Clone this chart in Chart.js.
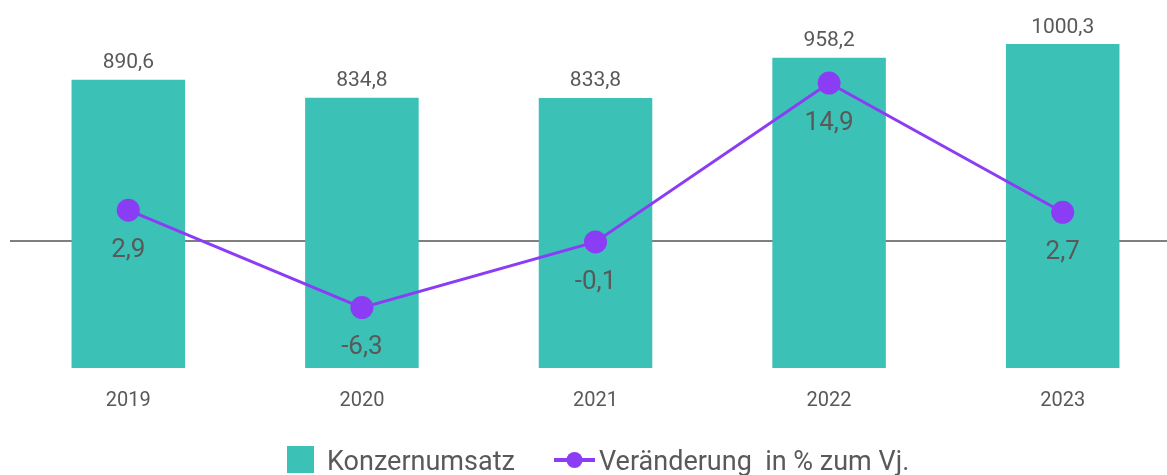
<!DOCTYPE html>
<html><head><meta charset="utf-8">
<script src="https://cdn.jsdelivr.net/npm/chart.js@4"></script>
<style>
html,body{margin:0;padding:0;background:#fff;overflow:hidden;width:1167px;height:475px}
#wrap{position:relative;width:1167px;height:475px;overflow:hidden}
#c{position:absolute;left:0;top:0;display:block}
#legend{position:absolute;left:0;top:0;width:1167px;height:475px;pointer-events:none;font-family:Roboto;color:#595959}
#legend .sq{position:absolute;left:287px;top:446px;width:27px;height:27px;background:#3CC1B6}
#legend .tx{position:absolute;font-size:27px;line-height:30px;white-space:pre;top:446px}
#legend svg{position:absolute;left:554px;top:450px}
</style>
</head><body><div id="wrap"><canvas id="c" width="1191" height="475" style="width:1191px;height:475px"></canvas>
<div id="legend"></div></div>
<script>
const categories = ['2019','2020','2021','2022','2023'];
const revenue = [890.6, 834.8, 833.8, 958.2, 1000.3];
const changePct = [2.9, -6.3, -0.1, 14.9, 2.7];
const seriesNames = ['Konzernumsatz', 'Veränderung  in % zum Vj.'];

const TEAL = '#3CC1B6', PURPLE = '#8B3DF5', TXT = '#595959', FONT = 'Roboto';
const fmt = v => v.toFixed(1).replace('.', ',');

// HTML legend (real text)
const lg = document.getElementById('legend');
lg.innerHTML =
  '<div class="sq"></div>' +
  '<span class="tx" style="left:327px"></span>' +
  '<svg width="41" height="20" viewBox="0 0 41 20"><line x1="0" y1="10" x2="41" y2="10" stroke="'+PURPLE+'" stroke-width="4"/><circle cx="20.5" cy="10" r="8" fill="'+PURPLE+'"/></svg>' +
  '<span class="tx" style="left:599px"></span>';
const spans = lg.querySelectorAll('.tx');
spans[0].textContent = seriesNames[0];
spans[1].textContent = seriesNames[1];

const zeroLine = {
  id:'zeroLine',
  beforeDatasetsDraw(chart){
    const y = Math.round(chart.scales.y1.getPixelForValue(0));
    const ctx = chart.ctx; ctx.save();
    ctx.strokeStyle = '#7f7f7f'; ctx.lineWidth = 2;
    ctx.beginPath(); ctx.moveTo(10, y); ctx.lineTo(chart.width, y); ctx.stroke();
    ctx.restore();
  }
};
const labels = {
  id:'labels',
  afterDatasetsDraw(chart){
    const ctx = chart.ctx; ctx.save();
    ctx.fillStyle = TXT; ctx.textAlign = 'center'; ctx.textBaseline = 'alphabetic';
    let s = 21;
    ctx.font = s + 'px ' + FONT;
    chart.getDatasetMeta(0).data.forEach((el,i)=>{
      ctx.fillText(fmt(revenue[i]), el.x, el.y - 19 + 0.355*s);
    });
    s = 26;
    ctx.font = s + 'px ' + FONT;
    chart.getDatasetMeta(1).data.forEach((el,i)=>{
      ctx.fillText(fmt(changePct[i]), el.x, el.y + 37.5 + 0.355*s);
    });
    ctx.restore();
  }
};

new Chart(document.getElementById('c'), {
  data:{
    labels: categories,
    datasets:[
      {type:'bar', label: seriesNames[0], data: revenue, backgroundColor: TEAL, yAxisID:'y',
       categoryPercentage:1, barPercentage:0.486, order:2},
      {type:'line', label: seriesNames[1], data: changePct, borderColor: PURPLE, backgroundColor: PURPLE,
       borderWidth:3, pointRadius:11.5, pointHoverRadius:11.5, pointBackgroundColor: PURPLE, pointBorderWidth:0,
       yAxisID:'y1', order:1, tension:0, pointStyle:'circle'}
    ]
  },
  options:{
    responsive:false, maintainAspectRatio:false, animation:false, devicePixelRatio:1,
    layout:{padding:{left:10.2, right:1.5, top:29, bottom:41}},
    plugins:{ tooltip:{enabled:false}, legend:{display:false} },
    scales:{
      x:{grid:{display:false, drawTicks:false}, border:{display:false},
         ticks:{color:TXT, font:{family:FONT, size:20}, padding:21}},
      y:{display:false, min:0, max:1047},
      y1:{display:false, min:-12, max:20}
    }
  },
  plugins:[zeroLine, labels]
});
</script></body></html>
